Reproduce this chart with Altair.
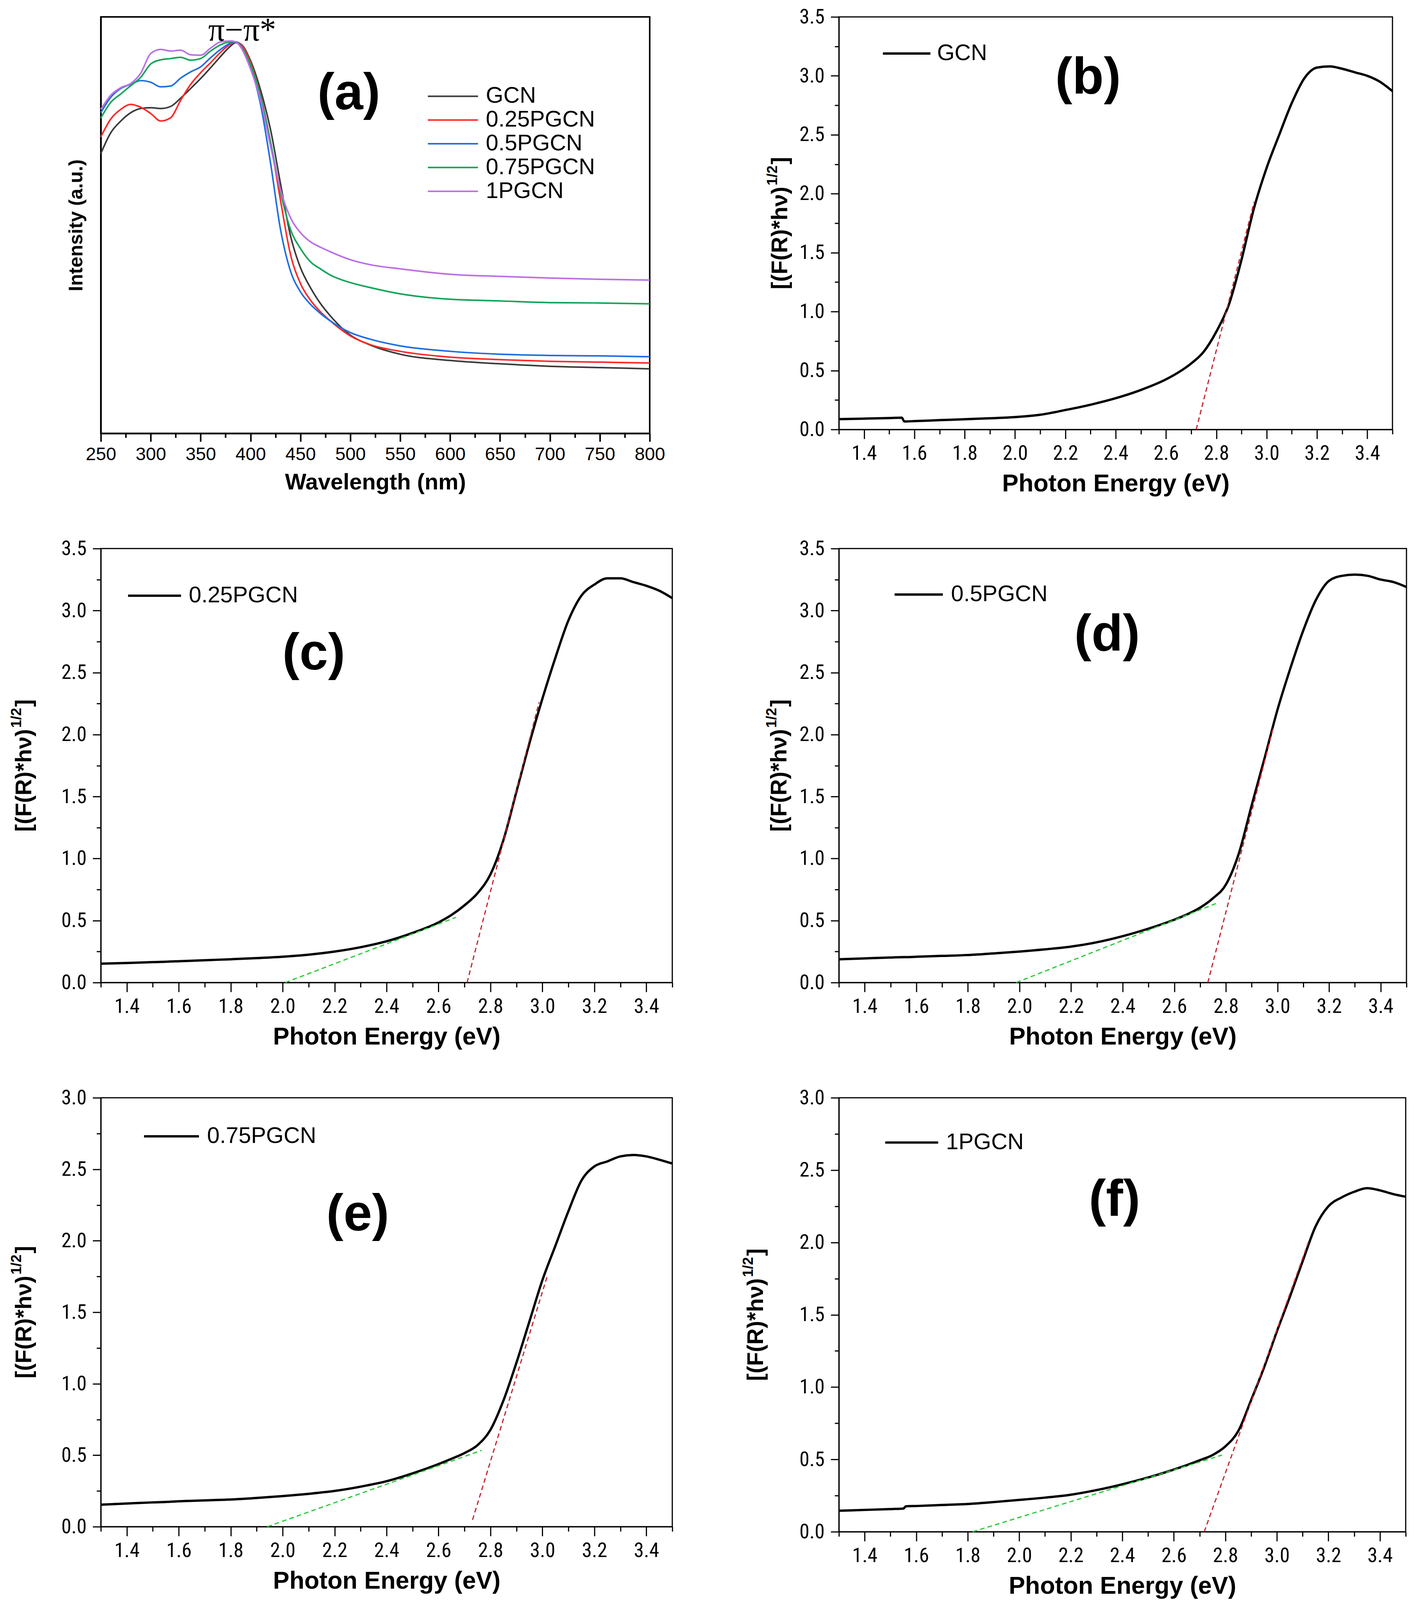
import altair as alt
import pandas as pd

# ---------------- panel (a) data ----------------
WAVELENGTH = [250, 260, 270, 280, 290, 300, 310, 320, 330, 340, 350, 360, 370, 380, 385, 390,
              400, 410, 420, 430, 440, 450, 460, 470, 480, 500, 520, 550, 600, 650, 700, 750, 800]
A_NAMES = ["GCN", "0.25PGCN", "0.5PGCN", "0.75PGCN", "1PGCN"]
A_COLORS = ["#3a3a3a", "#ff2a2a", "#1f6fe0", "#12a558", "#bb70e6"]
A_GCN = [0.672, 0.722, 0.750, 0.770, 0.780, 0.782, 0.780, 0.785, 0.805, 0.828, 0.852, 0.878, 0.905, 0.930, 0.938, 0.935,
         0.895, 0.825, 0.730, 0.600, 0.475, 0.398, 0.350, 0.312, 0.282, 0.236, 0.212, 0.190, 0.175, 0.167, 0.161, 0.158, 0.155]
A_025 = [0.712, 0.755, 0.778, 0.790, 0.783, 0.768, 0.750, 0.758, 0.800, 0.838, 0.866, 0.890, 0.915, 0.935, 0.940, 0.935,
         0.890, 0.812, 0.700, 0.560, 0.430, 0.360, 0.320, 0.292, 0.270, 0.234, 0.213, 0.197, 0.183, 0.177, 0.173, 0.171, 0.169]
A_05 = [0.770, 0.807, 0.828, 0.838, 0.847, 0.843, 0.832, 0.834, 0.853, 0.868, 0.880, 0.902, 0.922, 0.937, 0.940, 0.932,
        0.880, 0.790, 0.650, 0.490, 0.390, 0.340, 0.310, 0.288, 0.270, 0.242, 0.226, 0.210, 0.197, 0.190, 0.187, 0.186, 0.184]
A_075 = [0.757, 0.795, 0.815, 0.835, 0.855, 0.887, 0.897, 0.900, 0.903, 0.896, 0.900, 0.918, 0.933, 0.940, 0.940, 0.930,
         0.885, 0.810, 0.700, 0.580, 0.490, 0.444, 0.412, 0.395, 0.380, 0.362, 0.350, 0.335, 0.322, 0.318, 0.314, 0.313, 0.311]
A_1 = [0.778, 0.812, 0.830, 0.840, 0.865, 0.912, 0.922, 0.918, 0.920, 0.909, 0.908, 0.925, 0.940, 0.942, 0.940, 0.928,
       0.875, 0.800, 0.690, 0.585, 0.518, 0.482, 0.460, 0.447, 0.436, 0.417, 0.405, 0.395, 0.382, 0.377, 0.373, 0.370, 0.368]

# ---------------- panels (b)-(f) data ----------------
ENERGY = [1.3, 1.4, 1.5, 1.55, 1.56, 1.6, 1.7, 1.8, 1.9, 2.0, 2.1, 2.2, 2.3, 2.4, 2.5, 2.6, 2.65, 2.7, 2.75,
          2.8, 2.85, 2.9, 2.95, 3.0, 3.05, 3.1, 3.15, 3.2, 3.25, 3.3, 3.35, 3.4, 3.45, 3.5]
B_GCN = [0.088, 0.092, 0.097, 0.100, 0.068, 0.071, 0.079, 0.087, 0.095, 0.105, 0.125, 0.165, 0.210, 0.265, 0.335, 0.425,
         0.485, 0.560, 0.660, 0.830, 1.060, 1.440, 1.880, 2.220, 2.500, 2.770, 2.980, 3.070, 3.080, 3.060, 3.030, 3.000, 2.950, 2.870]
C_025 = [0.152, 0.158, 0.165, 0.168, 0.169, 0.172, 0.180, 0.188, 0.197, 0.208, 0.225, 0.250, 0.285, 0.333, 0.400, 0.485,
         0.545, 0.623, 0.720, 0.873, 1.150, 1.540, 1.930, 2.290, 2.620, 2.920, 3.120, 3.210, 3.260, 3.260, 3.230, 3.200, 3.160, 3.100]
D_05 = [0.188, 0.195, 0.202, 0.205, 0.205, 0.208, 0.215, 0.222, 0.235, 0.250, 0.268, 0.290, 0.325, 0.374, 0.435, 0.507,
        0.550, 0.604, 0.680, 0.790, 1.040, 1.430, 1.810, 2.200, 2.535, 2.840, 3.090, 3.240, 3.280, 3.290, 3.280, 3.250, 3.230, 3.190]
E_075 = [0.154, 0.162, 0.170, 0.173, 0.174, 0.178, 0.184, 0.190, 0.201, 0.214, 0.230, 0.250, 0.280, 0.318, 0.373, 0.438,
         0.475, 0.515, 0.570, 0.678, 0.883, 1.147, 1.436, 1.725, 1.965, 2.206, 2.420, 2.520, 2.555, 2.590, 2.600, 2.590, 2.567, 2.540]
F_1 = [0.145, 0.151, 0.157, 0.160, 0.176, 0.178, 0.185, 0.192, 0.205, 0.220, 0.236, 0.256, 0.288, 0.328, 0.375, 0.430,
       0.460, 0.494, 0.530, 0.590, 0.696, 0.910, 1.135, 1.385, 1.622, 1.870, 2.110, 2.250, 2.310, 2.350, 2.375, 2.360, 2.335, 2.316]

# tangent (dashed) lines: [x1, y1, x2, y2]
B_RED = [2.72, 0.0, 2.95, 1.93]
C_GREEN = [2.01, 0.0, 2.667, 0.526]
C_RED = [2.71, 0.0, 2.987, 2.26]
D_GREEN = [1.987, 0.0, 2.761, 0.637]
D_RED = [2.73, 0.0, 2.984, 2.06]
E_GREEN = [1.941, 0.0, 2.766, 0.534]
E_RED = [2.731, 0.048, 3.018, 1.749]
F_GREEN = [1.819, 0.0, 2.787, 0.53]
F_RED = [2.718, 0.0, 3.122, 2.0]

X_TICKS_E = [round(1.3 + 0.1 * i, 1) for i in range(23)]
X_TICKS_W = list(range(250, 801, 25))

SANS = "Liberation Sans"
NARROW = "Liberation Sans Narrow, Roboto Condensed, Liberation Sans"
YTITLE_MAIN = "[(F(R)*hν)"
YTITLE_SUP = "1/2"
YTITLE_END = "]"


def txt(t, **kw):
    return alt.Chart(pd.DataFrame({"t": [t]})).mark_text(color="black", **kw)


def panel_a(width, height):
    rows = []
    for name, vals in zip(A_NAMES, [A_GCN, A_025, A_05, A_075, A_1]):
        for w, v in zip(WAVELENGTH, vals):
            rows.append({"w": w, "v": v, "s": name})
    df = pd.DataFrame(rows)
    xaxis = alt.Axis(values=X_TICKS_W, title="Wavelength (nm)",
                     labelExpr="datum.value % 50 == 0 ? datum.label : ''",
                     tickSize={"condition": {"test": "datum.value % 50 == 0", "value": 21}, "value": 11},
                     tickWidth=4, domainWidth=4, labelFont=SANS, labelFontSize=47, labelPadding=10,
                     titleFont=SANS, titleFontSize=58, titleFontWeight="bold", titlePadding=21,
                     labelFlush=False, labelOverlap=False, grid=False)
    yaxis = alt.Axis(title="Intensity (a.u.)", labels=False, ticks=False, grid=False, domainWidth=4,
                     titleFont=SANS, titleFontSize=50, titleFontWeight="bold", titlePadding=38)
    S = 56
    k = 2.3
    line_left, line_right, label_x, y0 = 838, 967, 985, 202
    cx = (line_left + line_right) / 2
    lines = alt.Chart(df).mark_line(strokeWidth=4, interpolate="monotone").encode(
        x=alt.X("w:Q", scale=alt.Scale(domain=[250, 800], nice=False, zero=False), axis=xaxis),
        y=alt.Y("v:Q", scale=alt.Scale(domain=[0, 1], nice=False), axis=yaxis),
        color=alt.Color("s:N", sort=A_NAMES,
                        scale=alt.Scale(domain=A_NAMES, range=A_COLORS),
                        legend=alt.Legend(title=None, orient="none", legendX=cx - S / 2, legendY=y0 - S / 2,
                                          symbolType=f"M-{k},0L{k},0", symbolSize=S * S, symbolStrokeWidth=4,
                                          labelFont=SANS, labelFontSize=58, labelColor="black", labelLimit=2000,
                                          labelOffset=label_x - (cx - S / 2) - S, padding=0, rowPadding=2)),
    )
    ann = txt("π−π*", font="Liberation Serif", fontSize=84, align="center", baseline="middle").encode(
        x=alt.value(363), y=alt.value(36), text="t:N")
    lab = txt("(a)", font=SANS, fontSize=132, fontWeight="bold", align="center", baseline="middle").encode(
        x=alt.value(637), y=alt.value(198), text="t:N")
    return alt.layer(lines, ann, lab).properties(
        width=width, height=height, view=alt.ViewBackground(stroke="black", strokeWidth=4))


def panel_e(name, values, fits, ymax, width, height, leg, label, label_pos, ytitle_x):
    df = pd.DataFrame({"E": ENERGY, "v": values, "s": [name] * len(ENERGY)})
    y_ticks = [round(0.25 * i, 2) for i in range(int(ymax * 4) + 1)]
    xaxis = alt.Axis(values=X_TICKS_E, title="Photon Energy (eV)",
                     labelExpr="round(datum.value*10) % 2 == 0 ? format(datum.value, '.1f') : ''",
                     tickSize={"condition": {"test": "round(datum.value*10) % 2 == 0", "value": 24}, "value": 12},
                     tickWidth=3, domainWidth=3, labelFont=NARROW, labelFontSize=52, labelPadding=12,
                     titleFont=SANS, titleFontSize=63, titleFontWeight="bold", titlePadding=22,
                     labelFlush=False, labelOverlap=False, grid=False)
    yaxis = alt.Axis(values=y_ticks, title=None,
                     labelExpr="round(datum.value*4) % 2 == 0 ? format(datum.value, '.1f') : ''",
                     tickSize={"condition": {"test": "round(datum.value*4) % 2 == 0", "value": 21}, "value": 11},
                     tickWidth=3, domainWidth=3, labelFont=NARROW, labelFontSize=52, labelPadding=16,
                     labelFlush=False, labelOverlap=False, grid=False)
    xs = alt.Scale(domain=[1.3, 3.5], nice=False, zero=False)
    ys = alt.Scale(domain=[0, ymax], nice=False)
    S = 56
    line_left, line_right, label_x, yc = leg
    k = (line_right - line_left) / S
    cx = (line_left + line_right) / 2
    curve = alt.Chart(df).mark_line(strokeWidth=6, interpolate="monotone").encode(
        x=alt.X("E:Q", scale=xs, axis=xaxis),
        y=alt.Y("v:Q", scale=ys, axis=yaxis),
        color=alt.Color("s:N", scale=alt.Scale(domain=[name], range=["black"]),
                        legend=alt.Legend(title=None, orient="none", legendX=cx - S / 2, legendY=yc - S / 2,
                                          symbolType=f"M-{k:.3f},0L{k:.3f},0", symbolSize=S * S,
                                          symbolStrokeWidth=6, labelFont=SANS, labelFontSize=58,
                                          labelColor="black", labelLimit=2000,
                                          labelOffset=label_x - (cx - S / 2) - S, padding=0)),
    )
    layers = [curve]
    for seg, col in fits:
        fdf = pd.DataFrame({"x": [seg[0]], "y": [seg[1]], "x2": [seg[2]], "y2": [seg[3]]})
        layers.append(alt.Chart(fdf).mark_rule(strokeDash=[12, 8], strokeWidth=3, color=col).encode(
            x=alt.X("x:Q", scale=xs), y=alt.Y("y:Q", scale=ys), x2="x2:Q", y2="y2:Q"))
    layers.append(txt(label, font=SANS, fontSize=132, fontWeight="bold", align="center",
                      baseline="middle").encode(x=alt.value(label_pos[0]), y=alt.value(label_pos[1]), text="t:N"))
    # rotated y-axis title with a real superscript
    y_end = height / 2 - 94
    layers.append(txt(YTITLE_MAIN, font=SANS, fontSize=58, fontWeight="bold", angle=270, align="right",
                      baseline="middle").encode(x=alt.value(-ytitle_x), y=alt.value(y_end), text="t:N"))
    layers.append(txt(YTITLE_SUP, font=SANS, fontSize=37, fontWeight="bold", angle=270, align="left",
                      baseline="middle").encode(x=alt.value(-ytitle_x - 20), y=alt.value(y_end - 3), text="t:N"))
    layers.append(txt(YTITLE_END, font=SANS, fontSize=58, fontWeight="bold", angle=270, align="left",
                      baseline="middle").encode(x=alt.value(-ytitle_x), y=alt.value(y_end - 57), text="t:N"))
    return alt.layer(*layers).properties(
        width=width, height=height, view=alt.ViewBackground(stroke="black", strokeWidth=3))


RED = "#c0232b"
GREEN = "#22c832"

pa = panel_a(1410, 1070)
pb = panel_e("GCN", B_GCN, [(B_RED, RED)], 3.5, 1422, 1060, (110, 232, 246, 91), "(b)", (640, 157), 150)
pc = panel_e("0.25PGCN", C_025, [(C_GREEN, GREEN), (C_RED, RED)], 3.5, 1468, 1115,
             (67, 203, 220, 118), "(c)", (547, 271), 196)
pd_ = panel_e("0.5PGCN", D_05, [(D_GREEN, GREEN), (D_RED, RED)], 3.5, 1458, 1115,
              (140, 264, 282, 115), "(d)", (689, 223), 152)
pe = panel_e("0.75PGCN", E_075, [(E_GREEN, GREEN), (E_RED, RED)], 3.0, 1468, 1102,
             (108, 249, 267, 96), "(e)", (660, 301), 196)
pf = panel_e("1PGCN", F_1, [(F_GREEN, GREEN), (F_RED, RED)], 3.0, 1456, 1115,
             (116, 252, 269, 112), "(f)", (708, 264), 212)

chart = alt.concat(pa, pb, pc, pd_, pe, pf, columns=2,
                   spacing={"row": 296, "column": 428}, bounds="flush").resolve_scale(
    color="independent").properties(
    padding={"left": 14, "top": 0, "right": 5, "bottom": 5}, background="white"
).configure_axis(
    domainColor="black", tickColor="black", labelColor="black", titleColor="black"
).configure_legend(labelColor="black")

chart.save("out.html", embed_options={"renderer": "svg", "actions": False})
